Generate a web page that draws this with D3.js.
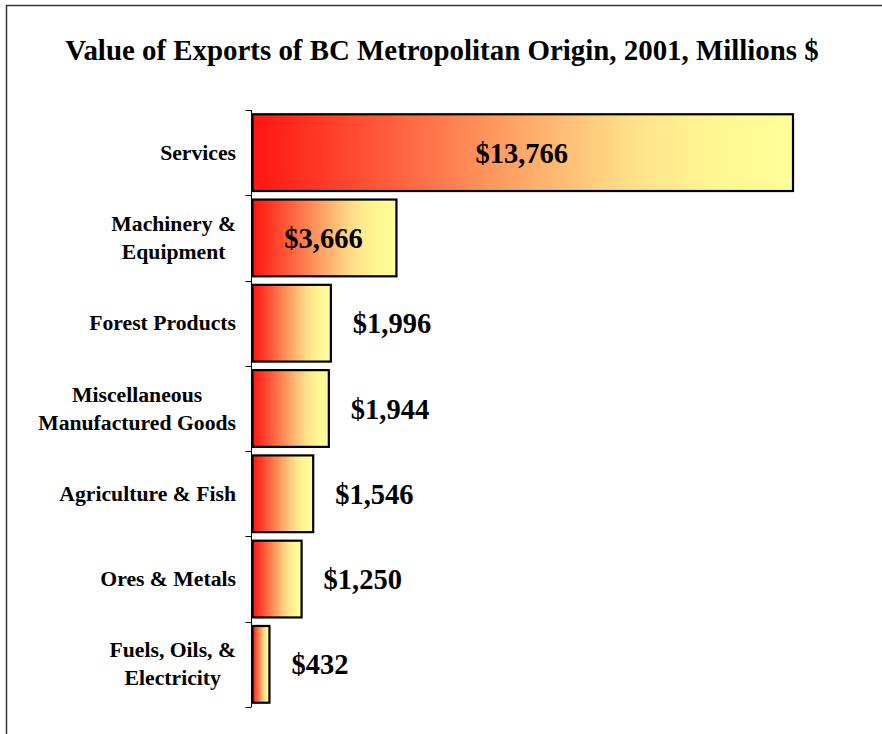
<!DOCTYPE html>
<html><head><meta charset="utf-8">
<script src="https://cdn.jsdelivr.net/npm/d3@7"></script>
<style>
html,body{margin:0;padding:0;background:#fff;}
svg{display:block;}
</style></head>
<body>
<svg id="chart" width="882" height="734"></svg>
<script>
const title = "Value of Exports of BC Metropolitan Origin, 2001, Millions $";
const categories = [
  ["Services"],
  ["Machinery &", "Equipment"],
  ["Forest Products"],
  ["Miscellaneous", "Manufactured Goods"],
  ["Agriculture & Fish"],
  ["Ores & Metals"],
  ["Fuels, Oils, &", "Electricity"]
];
const values = [13766, 3666, 1996, 1944, 1546, 1250, 432];
const valueLabels = ["$13,766", "$3,666", "$1,996", "$1,944", "$1,546", "$1,250", "$432"];
const insideLabel = [true, true, false, false, false, false, false];

const FONT = "'Liberation Serif', 'Times New Roman', Tinos, serif";
const svg = d3.select("#chart");
const W = 882, H = 734;

// frame
svg.append("rect").attr("x", 6.5).attr("y", 5.5).attr("width", W).attr("height", H)
  .attr("fill", "#fff").attr("stroke", "#333").attr("stroke-width", 1.5);

// gradient
const defs = svg.append("defs");
const grad = defs.append("linearGradient").attr("id", "g").attr("x1", "0%").attr("x2", "100%").attr("y1", "0%").attr("y2", "0%");
[["0%", "#ff1510"], ["25%", "#ff5c3c"], ["50%", "#ffa868"], ["70%", "#ffe08a"], ["85%", "#fff692"], ["100%", "#ffff99"]]
  .forEach(([o, c]) => grad.append("stop").attr("offset", o).attr("stop-color", c));

// title
svg.append("text").attr("x", 442).attr("y", 60).attr("text-anchor", "middle")
  .attr("font-family", FONT).attr("font-weight", "bold").attr("font-size", 28.9)
  .text(title);

const x0 = 251.5;
const x = d3.scaleLinear().domain([0, 13766]).range([x0, 792]);
const idx = d3.range(categories.length);
const y = d3.scaleBand().domain(idx).range([110, 707]).paddingInner(0.1).paddingOuter(0.05);

// axis
const axis = d3.axisLeft(y).tickSize(0).tickFormat("");
const ag = svg.append("g").attr("transform", `translate(${x0},0)`).call(axis);
ag.select(".domain").attr("stroke", "#000").attr("stroke-width", 1).attr("d", `M0,110V707`);
const tickYs = d3.range(categories.length + 1).map(i => 110 + i * (597 / categories.length));
svg.append("g").selectAll("line").data(tickYs).join("line")
  .attr("x1", x0 - 6).attr("x2", x0).attr("y1", d => Math.round(d) + 0.5).attr("y2", d => Math.round(d) + 0.5)
  .attr("stroke", "#000").attr("stroke-width", 1);

// bars
svg.append("g").selectAll("rect").data(values).join("rect")
  .attr("x", x(0) + 1)
  .attr("y", (d, i) => y(i))
  .attr("width", d => x(d) - x(0))
  .attr("height", y.bandwidth())
  .attr("fill", "url(#g)")
  .attr("stroke", "#000").attr("stroke-width", 2.2);

// value labels
svg.append("g").selectAll("text").data(values).join("text")
  .attr("x", (d, i) => insideLabel[i] ? (x(0) + x(d)) / 2 : x(d) + 23)
  .attr("y", (d, i) => y(i) + y.bandwidth() / 2 + 10)
  .attr("text-anchor", (d, i) => insideLabel[i] ? "middle" : "start")
  .attr("font-family", FONT).attr("font-weight", "bold").attr("font-size", 28.5)
  .text((d, i) => valueLabels[i]);

// category labels
const lineH = 28;
const cg = svg.append("g");
categories.forEach((lines, i) => {
  const t = cg.append("text").attr("font-family", FONT).attr("font-weight", "bold")
    .attr("font-size", 21.7).attr("text-anchor", "middle");
  const cy = y(i) + y.bandwidth() / 2;
  const n = lines.length;
  lines.forEach((l, j) => {
    t.append("tspan").attr("y", cy + 7 + (j - (n - 1) / 2) * lineH).text(l);
  });
  let maxW = 0;
  t.selectAll("tspan").each(function(){ maxW = Math.max(maxW, this.getComputedTextLength()); });
  t.selectAll("tspan").attr("x", 236 - maxW / 2);
});
</script>
</body></html>
